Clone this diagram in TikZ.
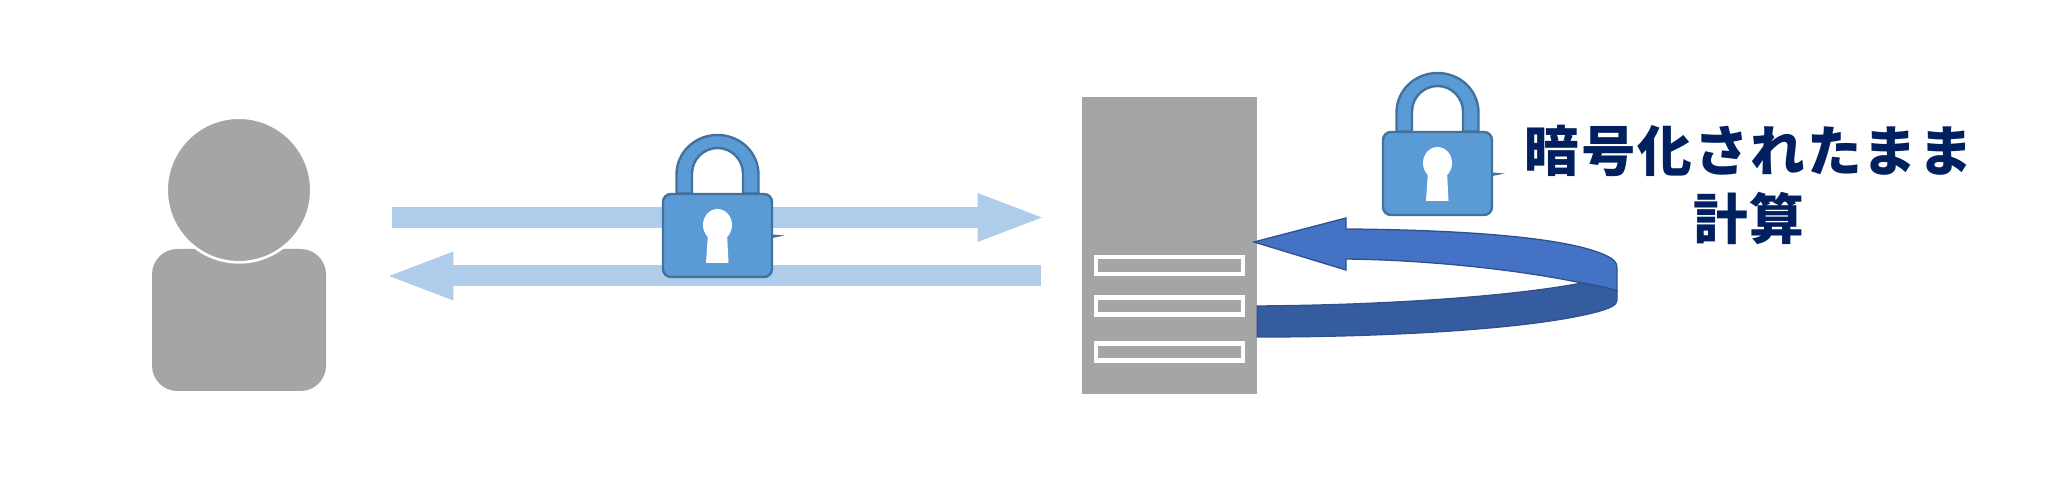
\documentclass[tikz,border=0pt]{standalone}
\usepackage{fontspec}
\newfontfamily\cjk{Noto Sans CJK JP}[LetterSpace=3.4]
\usetikzlibrary{arrows.meta}
\definecolor{shapegrey}{HTML}{A5A5A5}
\definecolor{flowblue}{HTML}{AFCDEB}
\definecolor{lockfill}{HTML}{5B9BD5}
\definecolor{lockline}{HTML}{41719C}
\definecolor{loopup}{HTML}{4472C4}
\definecolor{looplow}{HTML}{355C9E}
\definecolor{loopline}{HTML}{2F528F}
\definecolor{textnavy}{HTML}{002060}
\tikzset{
  flow/.style={draw=flowblue,line width=15.75pt,-{Triangle[length=52pt,width=32pt]}},
  slot/.style={draw=white,line width=3.4pt,minimum width=110pt,minimum height=12.75pt,inner sep=0pt},
  padlock/.pic={
    %Shape: Shackle
    \draw [fill=lockfill,draw=lockline,line width=1.8pt] (-41,-42) -- (-41,-61) .. controls (-41,-83) and (-22.6,-100.5) .. (0,-100.5) .. controls (22.6,-100.5) and (41,-83) .. (41,-61) -- (41,-42) -- (25.5,-42) -- (25.5,-62) .. controls (25.5,-76) and (14,-87.5) .. (0,-87.5) .. controls (-14,-87.5) and (-25.5,-76) .. (-25.5,-62) -- (-25.5,-42) -- cycle;
    %Shape: Body
    \draw [fill=lockfill,draw=lockline,line width=1.8pt,rounded corners=6pt] (-54.5,-41.5) rectangle (54.5,41.5);
    %Shape: Keyhole
    \fill [white] (0,-10.5) ellipse [x radius=14.5,y radius=16];
    \fill [white] (-9.5,-2) -- (-11.5,27.5) -- (11,27.5) -- (9.5,-2) -- cycle;
    %Shape: Tick
    \fill [lockline] (55,-1) -- (67,0) -- (55,2.5) -- cycle;
  }
}
\begin{document}
\begin{tikzpicture}[x=0.75pt,y=0.75pt,yscale=-1,xscale=1]
    \useasboundingbox (0,0) rectangle (2048,498);

    %Shape: User
    \node [fill=shapegrey,rounded corners=19pt,minimum width=130.5pt,minimum height=106.5pt,inner sep=0pt] (userbody) at (239,320) {};
    \node [circle,fill=shapegrey,draw=white,line width=2pt,minimum size=108.5pt,inner sep=0pt] (userhead) at (239,190) {};

    %Shape: Server
    \node [fill=shapegrey,minimum width=131.25pt,minimum height=222.75pt,inner sep=0pt] (server) at (1169.5,245.5) {};
    \foreach \slotname/\sloty in {slota/265.5,slotb/306,slotc/352}
      \node [slot] (\slotname) at (1169.5,\sloty) {};

    %Shape: Flows
    \coordinate (sendfrom) at (392,217.5);
    \coordinate (sendto) at (1047,217.5);
    \coordinate (replyfrom) at (1041,276);
    \coordinate (replyto) at (384,276);
    \draw [flow] (sendfrom) -- (sendto);
    \draw [flow] (replyfrom) -- (replyto);

    %Shape: Loop, lower band
    \draw [fill=looplow,draw=loopline,line width=1pt] (server.east |- 0,306) .. controls (1400,305) and (1520,295) .. (1582,283) .. controls (1595,285) and (1610,288) .. (1617,291) -- (1617,300) .. controls (1617,305) and (1610,308) .. (1600,311) .. controls (1540,328) and (1400,337) .. (server.east |- 0,337) -- cycle;
    %Shape: Loop, upper band
    \draw [fill=loopup,draw=loopline,line width=1pt] (1254,242) -- (1346,218) -- (1346,229) .. controls (1470,230) and (1570,238) .. (1607,256) .. controls (1613,259) and (1617,262) .. (1617,268) -- (1617,291) .. controls (1610,288) and (1595,285) .. (1582,283) .. controls (1520,270) and (1430,260) .. (1346,259) -- (1346,270) -- cycle;

    %Shape: Locks
    \pic [transform shape] (lockflow) at (717.5,235.5) {padlock};
    \pic [transform shape] (lockloop) at (1437.5,173.5) {padlock};

    % Text Node
    \node [align=center,inner sep=0pt,text=textnavy,font=\cjk\bfseries\fontsize{41}{51}\selectfont] (caption) at (1749,184.5) {暗号化されたまま\\計算};
\end{tikzpicture}
\end{document}
